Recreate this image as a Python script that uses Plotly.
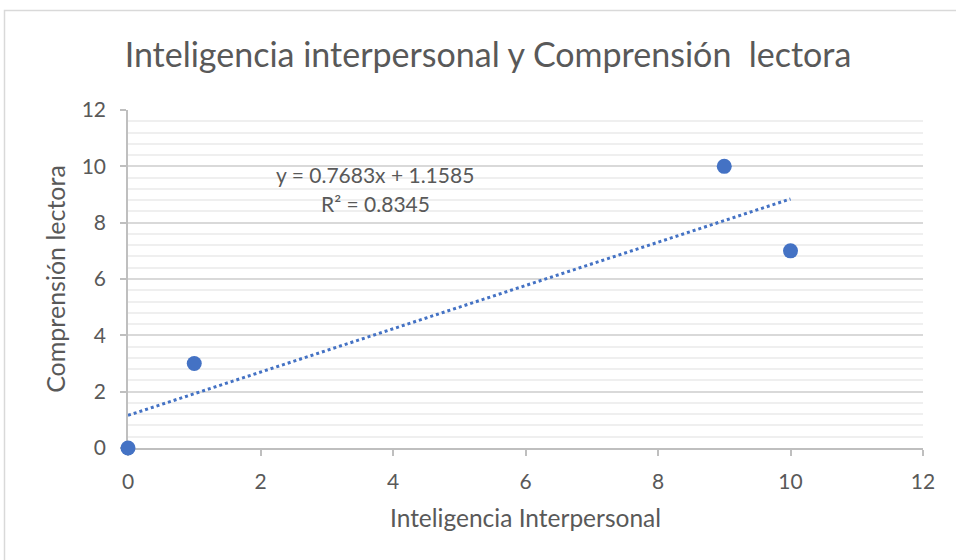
import plotly.graph_objects as go

# Data
inteligencia = [0, 1, 9, 10]
comprension = [0, 3, 10, 7]
slope = 0.7683
intercept = 1.1585
r2 = 0.8345
trend_x = [0, 10]
trend_y = [slope * x + intercept for x in trend_x]

title = "Inteligencia interpersonal y Comprensión  lectora"
x_title = "Inteligencia Interpersonal"
y_title = "Comprensión lectora"

FONT = "Lato"
GRAY = "#595959"
BLUE = "#4472C4"

fig = go.Figure()
fig.add_trace(go.Scatter(
    x=trend_x, y=trend_y, mode="lines",
    line=dict(color=BLUE, width=3, dash="dot"),
    hoverinfo="skip", showlegend=False))
fig.add_trace(go.Scatter(
    x=inteligencia, y=comprension, mode="markers",
    marker=dict(color=BLUE, size=15), showlegend=False, cliponaxis=False))

L, R, T, B = 128, 33, 110, 112
W, H = 956, 560
pw, ph = W - L - R, H - T - B

def px2paper_x(px):
    return (px - L) / pw

def px2paper_y(py):
    return (H - B - py) / ph

fig.add_shape(type="rect", xref="paper", yref="paper",
              x0=px2paper_x(4.5), x1=px2paper_x(975),
              y0=px2paper_y(580), y1=px2paper_y(10.5),
              line=dict(color="#D9D9D9", width=1.5), fillcolor="rgba(0,0,0,0)", layer="below")

fig.add_annotation(x=3.73, y=9.72, xref="x", yref="y",
                   text=f"y = {slope}x + {intercept}", showarrow=False,
                   font=dict(family=FONT, size=21, color=GRAY))
fig.add_annotation(x=3.73, y=8.68, xref="x", yref="y",
                   text=f"R² = {r2}", showarrow=False,
                   font=dict(family=FONT, size=21, color=GRAY))

fig.update_layout(
    width=W, height=H,
    margin=dict(l=L, r=R, t=T, b=B),
    paper_bgcolor="white", plot_bgcolor="white",
    font=dict(family=FONT, color=GRAY),
    title=dict(text=title, x=488 / W, xanchor="center", xref="container",
               y=1 - 55 / H, yanchor="middle", yref="container",
               font=dict(family=FONT, size=34, color=GRAY)),
    xaxis=dict(range=[0, 12], dtick=2, showgrid=False, zeroline=False,
               showline=True, linecolor="#BFBFBF", linewidth=1.5,
               ticks="outside", ticklen=6, tickcolor="#BFBFBF", tickwidth=1.5,
               ticklabelstandoff=8, layer="below traces",
               tickfont=dict(family=FONT, size=21, color=GRAY),
               title=dict(text=x_title, font=dict(family=FONT, size=24.5, color=GRAY), standoff=18)),
    yaxis=dict(range=[0, 12], dtick=2, showgrid=True, gridcolor="#D9D9D9", gridwidth=1.5,
               zeroline=False, showline=True, linecolor="#BFBFBF", linewidth=1.5,
               ticks="outside", ticklen=6, tickcolor="#BFBFBF", tickwidth=1.5,
               ticklabelstandoff=10, layer="below traces",
               minor=dict(dtick=0.4, showgrid=True, gridcolor="#EFEFEF", gridwidth=1.5),
               tickfont=dict(family=FONT, size=21, color=GRAY),
               title=dict(text=y_title, font=dict(family=FONT, size=25, color=GRAY), standoff=9)),
)

fig.write_html("out.html", config={"displayModeBar": False},
               post_script="document.body.style.margin='0px';")
